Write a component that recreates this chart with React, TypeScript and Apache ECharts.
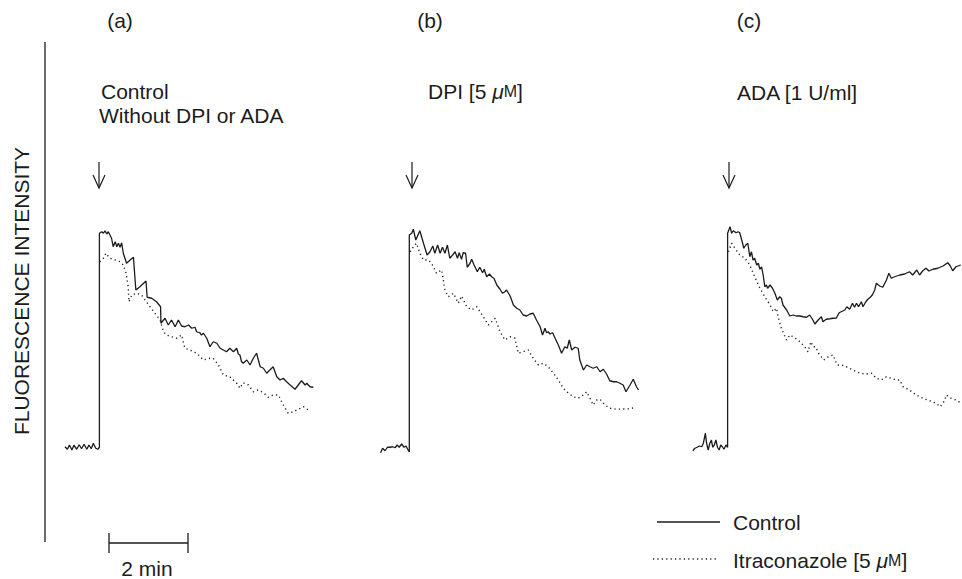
import React, { useEffect, useRef } from "react";
import * as echarts from "echarts";

// time (min, 0 = addition / arrow), fluorescence (arbitrary units)
const ctrlA: number[][] = [
  [-0.84, 5.3], [-0.78, 4.3], [-0.73, 6.0], [-0.67, 4.0], [-0.62, 5.9], [-0.55, 4.3], [-0.49, 6.1], [-0.43, 4.5],
  [-0.37, 6.3], [-0.3, 4.3], [-0.25, 6.0], [-0.19, 4.5], [-0.14, 6.7], [-0.08, 4.7], [-0.03, 4.3], [0.01, 5.1],
  [0.01, 90.7], [0.07, 91.3], [0.11, 90.7], [0.15, 91.7], [0.19, 90.4], [0.23, 91.3], [0.27, 90.0], [0.31, 88.7],
  [0.35, 85.3], [0.4, 87.3], [0.44, 85.3], [0.48, 86.7], [0.52, 85.1], [0.56, 86.9], [0.6, 82.7], [0.68, 78.7],
  [0.77, 80.0], [0.85, 81.1], [0.91, 68.0], [1.01, 69.3], [1.16, 71.6], [1.19, 65.1], [1.3, 64.7], [1.42, 63.3],
  [1.52, 61.3], [1.53, 54.7], [1.63, 56.7], [1.71, 54.0], [1.79, 56.0], [1.88, 53.3], [1.96, 56.0], [2.04, 53.6],
  [2.12, 53.3], [2.21, 54.0], [2.29, 52.7], [2.37, 53.1], [2.41, 51.3], [2.49, 50.9], [2.53, 50.0], [2.58, 50.7],
  [2.66, 48.7], [2.74, 45.3], [2.82, 47.3], [2.91, 46.7], [2.99, 44.7], [3.07, 44.0], [3.15, 43.3], [3.23, 44.7],
  [3.32, 43.3], [3.4, 44.7], [3.44, 42.4], [3.48, 42.0], [3.52, 39.3], [3.56, 38.7], [3.65, 40.0], [3.73, 38.0],
  [3.81, 40.7], [3.89, 42.7], [3.98, 37.3], [4.06, 36.7], [4.14, 34.7], [4.22, 36.0], [4.3, 37.3], [4.39, 33.3],
  [4.47, 32.0], [4.55, 32.7], [4.63, 31.3], [4.72, 30.0], [4.84, 28.3], [5.0, 31.7], [5.09, 30.0], [5.13, 30.7],
  [5.21, 29.3], [5.29, 29.1],
];
const itraA: number[][] = [
  [0.02, 79.3], [0.11, 80.7], [0.17, 82.7], [0.27, 80.7], [0.4, 80.0], [0.52, 79.3], [0.6, 78.0], [0.67, 74.7],
  [0.72, 69.3], [0.74, 63.3], [0.81, 66.0], [0.93, 66.7], [1.05, 66.0], [1.14, 64.0], [1.26, 61.3], [1.38, 58.7],
  [1.51, 56.0], [1.59, 51.3], [1.67, 50.0], [1.79, 49.3], [1.92, 48.7], [2.04, 50.0], [2.12, 44.7], [2.25, 44.0],
  [2.41, 42.7], [2.58, 40.0], [2.74, 40.7], [2.82, 40.7], [2.95, 38.0], [3.07, 34.0], [3.23, 33.3], [3.4, 30.7],
  [3.48, 28.7], [3.56, 30.9], [3.69, 30.0], [3.81, 27.3], [3.93, 28.0], [4.06, 26.9], [4.18, 25.1], [4.3, 26.0],
  [4.43, 26.0], [4.55, 22.0], [4.67, 18.7], [4.8, 19.3], [4.92, 20.3], [5.05, 21.3], [5.17, 20.0],
];
const ctrlB: number[][] = [
  [-0.71, 2.9], [-0.66, 4.7], [-0.6, 3.7], [-0.54, 5.1], [-0.48, 5.1], [-0.41, 5.3], [-0.35, 4.9], [-0.3, 6.0],
  [-0.25, 5.1], [-0.19, 6.4], [-0.13, 5.1], [-0.08, 5.6], [-0.04, 4.3], [0.0, 3.2], [0.0, 90.0], [0.06, 90.7],
  [0.1, 92.3], [0.16, 88.0], [0.26, 91.7], [0.35, 86.7], [0.44, 82.0], [0.51, 83.3], [0.58, 85.6], [0.63, 82.7],
  [0.7, 86.0], [0.76, 82.7], [0.82, 85.1], [0.88, 82.7], [0.94, 86.0], [1.0, 80.7], [1.07, 82.0], [1.13, 83.3],
  [1.19, 80.7], [1.23, 82.9], [1.29, 80.3], [1.33, 82.9], [1.39, 82.7], [1.43, 77.1], [1.5, 78.7], [1.54, 80.3],
  [1.6, 78.0], [1.68, 75.3], [1.74, 77.1], [1.81, 74.9], [1.85, 76.3], [1.91, 73.3], [1.98, 74.4], [2.03, 73.3],
  [2.09, 72.7], [2.16, 70.0], [2.24, 68.3], [2.3, 66.7], [2.36, 67.3], [2.4, 68.0], [2.49, 65.6], [2.57, 62.0],
  [2.65, 60.7], [2.73, 60.0], [2.81, 58.0], [2.9, 57.6], [2.98, 58.4], [3.06, 58.7], [3.14, 56.0], [3.23, 53.3],
  [3.29, 50.0], [3.35, 52.7], [3.39, 50.9], [3.43, 51.3], [3.47, 50.4], [3.54, 50.9], [3.6, 48.7], [3.68, 46.0],
  [3.76, 42.7], [3.84, 45.3], [3.9, 44.7], [3.95, 48.0], [4.01, 44.0], [4.09, 45.1], [4.17, 44.7], [4.21, 40.0],
  [4.3, 36.0], [4.38, 38.0], [4.46, 37.3], [4.54, 36.7], [4.63, 37.3], [4.71, 35.3], [4.79, 36.3], [4.87, 34.4],
  [4.95, 31.7], [5.04, 31.3], [5.12, 31.3], [5.2, 30.7], [5.28, 30.0], [5.35, 27.3], [5.45, 30.0], [5.53, 32.3],
  [5.61, 29.3], [5.66, 28.0],
];
const itraB: number[][] = [
  [0.02, 83.3], [0.1, 85.3], [0.18, 86.7], [0.26, 82.7], [0.35, 80.0], [0.47, 80.0], [0.55, 78.7], [0.67, 74.7],
  [0.8, 76.0], [0.88, 68.0], [0.96, 65.3], [1.09, 66.7], [1.21, 62.7], [1.29, 65.6], [1.42, 61.3], [1.54, 60.0],
  [1.66, 61.3], [1.83, 57.3], [1.95, 54.0], [2.12, 56.7], [2.24, 51.3], [2.36, 48.0], [2.49, 49.3], [2.61, 48.7],
  [2.69, 42.7], [2.81, 43.3], [2.94, 44.0], [3.06, 40.7], [3.19, 38.0], [3.31, 38.7], [3.43, 37.3], [3.56, 34.7],
  [3.68, 32.0], [3.8, 28.7], [3.93, 26.7], [4.05, 25.3], [4.17, 24.7], [4.3, 26.0], [4.38, 27.3], [4.46, 24.7],
  [4.54, 22.0], [4.63, 24.0], [4.71, 24.3], [4.83, 22.0], [4.95, 20.7], [5.12, 20.3], [5.28, 20.4], [5.45, 20.5],
  [5.58, 21.1],
];
const ctrlC: number[][] = [
  [-0.86, 3.7], [-0.81, 4.7], [-0.75, 5.1], [-0.7, 5.6], [-0.64, 5.3], [-0.6, 6.7], [-0.55, 10.7], [-0.52, 6.7],
  [-0.48, 4.0], [-0.44, 6.7], [-0.4, 8.0], [-0.37, 5.1], [-0.33, 6.0], [-0.29, 8.0], [-0.25, 5.1], [-0.21, 4.0],
  [-0.17, 6.0], [-0.13, 5.3], [-0.09, 4.3], [-0.04, 6.0], [0.0, 5.1], [0.0, 90.7], [0.06, 93.3], [0.1, 90.7],
  [0.14, 91.7], [0.21, 90.9], [0.26, 91.3], [0.3, 90.9], [0.35, 88.0], [0.4, 84.7], [0.45, 86.0], [0.5, 86.7],
  [0.55, 81.3], [0.59, 83.3], [0.63, 80.0], [0.67, 80.7], [0.72, 78.0], [0.76, 78.7], [0.8, 76.3], [0.84, 77.3],
  [0.88, 74.0], [0.92, 69.3], [0.96, 70.0], [0.99, 68.7], [1.05, 70.0], [1.11, 68.7], [1.17, 66.7], [1.23, 64.0],
  [1.29, 65.3], [1.33, 64.7], [1.37, 62.0], [1.46, 60.0], [1.54, 57.6], [1.62, 58.0], [1.7, 57.6], [1.79, 57.6],
  [1.87, 57.3], [1.95, 57.1], [2.03, 58.0], [2.1, 56.3], [2.16, 54.4], [2.24, 56.0], [2.32, 57.3], [2.36, 55.3],
  [2.44, 56.3], [2.53, 56.5], [2.61, 56.7], [2.69, 56.8], [2.76, 58.9], [2.81, 59.3], [2.9, 60.0], [2.95, 61.3],
  [3.02, 60.3], [3.09, 62.7], [3.14, 61.1], [3.19, 62.7], [3.24, 61.3], [3.31, 63.3], [3.35, 61.3], [3.42, 63.3],
  [3.47, 64.3], [3.53, 65.1], [3.58, 66.0], [3.64, 68.0], [3.68, 70.7], [3.76, 69.6], [3.84, 69.1], [3.93, 72.0],
  [3.99, 74.7], [4.05, 72.7], [4.13, 73.3], [4.26, 74.0], [4.38, 74.4], [4.5, 75.3], [4.58, 74.0], [4.68, 76.0],
  [4.75, 74.0], [4.83, 75.7], [4.91, 76.7], [4.98, 75.6], [5.08, 76.3], [5.2, 76.7], [5.33, 77.6], [5.45, 78.9],
  [5.51, 77.6], [5.57, 75.7], [5.65, 77.3], [5.77, 78.0],
];
const itraC: number[][] = [
  [0.02, 83.3], [0.1, 86.7], [0.18, 84.7], [0.3, 82.0], [0.43, 80.7], [0.55, 78.0], [0.67, 73.3], [0.8, 68.7],
  [0.92, 65.3], [1.05, 62.0], [1.13, 59.3], [1.21, 60.7], [1.25, 57.3], [1.33, 52.7], [1.42, 49.3], [1.46, 48.0],
  [1.54, 50.0], [1.62, 49.3], [1.74, 48.0], [1.91, 45.3], [1.99, 43.3], [2.06, 47.3], [2.12, 45.3], [2.18, 45.3],
  [2.25, 42.7], [2.38, 40.0], [2.49, 41.3], [2.61, 42.0], [2.71, 38.0], [2.82, 38.0], [2.94, 37.3], [3.1, 36.0],
  [3.27, 34.7], [3.43, 34.4], [3.56, 34.7], [3.68, 32.7], [3.8, 32.0], [3.93, 33.3], [4.05, 32.7], [4.17, 32.0],
  [4.26, 32.0], [4.34, 29.3], [4.5, 28.0], [4.67, 26.0], [4.83, 24.7], [5.0, 23.7], [5.16, 22.7], [5.26, 21.3],
  [5.37, 23.7], [5.41, 26.0], [5.53, 24.7], [5.65, 24.0], [5.77, 22.9],
];

const panelLabels = ["(a)", "(b)", "(c)"];
const seriesNames = ["Control", "Itraconazole [5 μM]"];
const scaleBarLabel = "2 min";
const yAxisTitle = "FLUORESCENCE INTENSITY";

const FONT = "'Liberation Sans', Arial, Helvetica, sans-serif";
const INK = "#1c1c1c";

export default function App() {
  const ref = useRef<HTMLDivElement>(null);
  useEffect(() => {
    if (!ref.current) return;
    const chart = echarts.init(ref.current, undefined, { renderer: "svg" });
    const lefts = [58.5, 368.8, 687.2];
    const grids = lefts.map((l) => ({ left: l, top: 210, width: 275.4, height: 250 }));
    const xAxes = lefts.map((_, i) => ({ type: "value", gridIndex: i, min: -1, max: 5.8, show: false }));
    const yAxes = lefts.map((_, i) => ({ type: "value", gridIndex: i, min: 0, max: 100, show: false }));
    const solid = { color: INK, width: 1.3, type: "solid" };
    const dotDash = [1.2, 3.2];
    const dotted = { color: INK, width: 1.4, type: dotDash };
    const pairs = [
      [ctrlA, itraA],
      [ctrlB, itraB],
      [ctrlC, itraC],
    ];
    const series: any[] = [];
    pairs.forEach((p, i) => {
      series.push({
        type: "line", name: seriesNames[0], xAxisIndex: i, yAxisIndex: i, data: p[0],
        symbol: "none", lineStyle: solid, itemStyle: { color: INK }, silent: true,
      });
      series.push({
        type: "line", name: seriesNames[1], xAxisIndex: i, yAxisIndex: i, data: p[1],
        symbol: "none", lineStyle: dotted, itemStyle: { color: INK }, silent: true,
      });
    });
    const txt = (text: string, x: number, y: number, extra: any = {}) => ({
      type: "text",
      x, y,
      style: {
        text, font: `21px ${FONT}`, fill: INK, textVerticalAlign: "middle", textAlign: "left",
        rich: {
          mu: { font: `italic 21px ${FONT}`, fill: INK },
          sc: { font: `16px ${FONT}`, fill: INK },
        },
        ...extra,
      },
    });
    const arrow = (x: number) => ({
      type: "group",
      children: [
        { type: "line", shape: { x1: x, y1: 162, x2: x, y2: 188 }, style: { stroke: INK, lineWidth: 1.2 } },
        { type: "polyline", shape: { points: [[x - 6, 175], [x, 188], [x + 6, 175]] }, style: { stroke: INK, lineWidth: 1.2, fill: null } },
      ],
    });
    const graphic: any[] = [
      { type: "line", shape: { x1: 45, y1: 42, x2: 45, y2: 542 }, style: { stroke: INK, lineWidth: 1.3 } },
      {
        type: "text", x: 21, y: 291, rotation: Math.PI / 2,
        style: { text: yAxisTitle, font: `21px ${FONT}`, fill: INK, textAlign: "center", textVerticalAlign: "middle" },
      },
      txt(panelLabels[0], 120, 20, { textAlign: "center" }),
      txt(panelLabels[1], 430, 20, { textAlign: "center" }),
      txt(panelLabels[2], 749, 20, { textAlign: "center" }),
      txt("Control", 101, 91),
      txt("Without DPI or ADA", 99, 115),
      txt("DPI [5 {mu|μ}{sc|M}]", 428, 91),
      txt("ADA [1 U/ml]", 737, 92),
      arrow(99),
      arrow(412),
      arrow(729),
      { type: "line", shape: { x1: 109, y1: 543, x2: 188, y2: 543 }, style: { stroke: INK, lineWidth: 1.3 } },
      { type: "line", shape: { x1: 109, y1: 533, x2: 109, y2: 553 }, style: { stroke: INK, lineWidth: 1.3 } },
      { type: "line", shape: { x1: 188, y1: 533, x2: 188, y2: 553 }, style: { stroke: INK, lineWidth: 1.3 } },
      txt(scaleBarLabel, 147, 568, { textAlign: "center" }),
      // legend
      { type: "line", shape: { x1: 657, y1: 522, x2: 720, y2: 522 }, style: { stroke: INK, lineWidth: 1.3 } },
      txt(seriesNames[0], 733, 522),
      { type: "line", shape: { x1: 653, y1: 559, x2: 716, y2: 559 }, style: { stroke: INK, lineWidth: 1.4, lineDash: dotDash } },
      txt("Itraconazole [5 {mu|μ}{sc|M}]", 733, 560),
    ];
    chart.setOption({
      animation: false,
      backgroundColor: "#ffffff",
      grid: grids,
      xAxis: xAxes,
      yAxis: yAxes,
      graphic,
      series,
    });
    return () => chart.dispose();
  }, []);
  return <div ref={ref} style={{ position: "absolute", left: 0, top: 0, width: 962, height: 579, background: "#fff" }} />;
}
